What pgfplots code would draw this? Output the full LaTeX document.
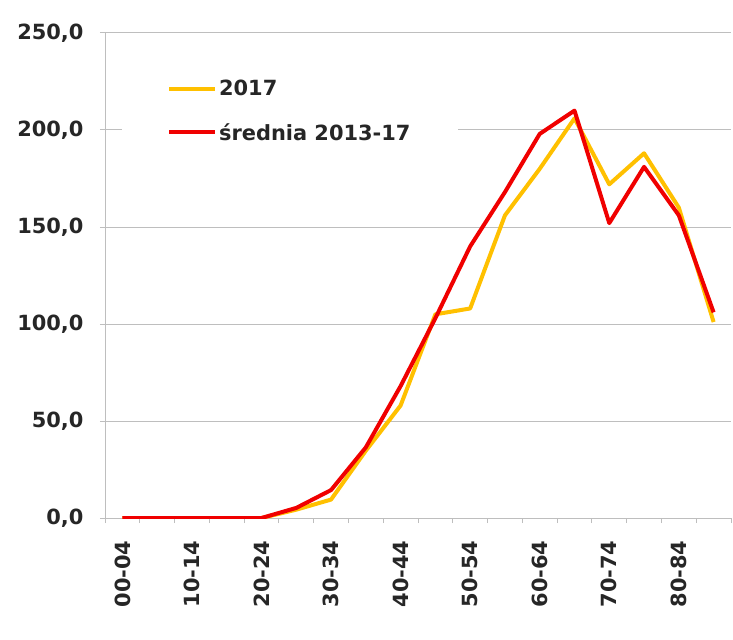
\documentclass[border=0pt]{standalone}
\usepackage{pgfplots}
\pgfplotsset{compat=1.18}
\usepackage{fontspec}
\setmainfont{DejaVu Sans}
\definecolor{ygold}{RGB}{255,192,0}
\definecolor{cred}{RGB}{240,0,0}
\definecolor{gridg}{RGB}{190,190,190}
\begin{document}
\begin{tikzpicture}
\begin{axis}[
  at={(0,0)}, anchor=south west,
  scale only axis, width=626bp, height=485bp,
  xmin=-0.5, xmax=17.5, ymin=0, ymax=250,
  axis lines*=left,
  axis line style={gridg, line width=1pt},
  tick align=outside,
  xtick={0,2,...,16},
  xticklabels={00-04,10-14,20-24,30-34,40-44,50-54,60-64,70-74,80-84},
  major x tick style={draw=none},
  minor xtick={-0.5,0.5,...,17.5},
  minor tick length=5bp,
  minor x tick style={gridg, line width=1pt},
  ytick={0,50,...,250},
  major tick length=5bp,
  major y tick style={gridg, line width=1pt},
  ymajorgrids,
  grid style={gridg, line width=1pt},
  /pgf/number format/.cd, fixed, fixed zerofill, precision=1, use comma, assume math mode=true,
  /pgfplots/.cd,
  ticklabel style={font=\fontsize{21}{24}\selectfont\bfseries, text=black!85},
  yticklabel style={xshift=-13bp},
  xticklabel style={yshift=-14bp, rotate=90, anchor=east},
  legend style={at={(0.027,0.936)}, anchor=north west, draw=none, fill=white,
    font=\fontsize{21}{24}\selectfont\bfseries, text=black!85,
    inner xsep=45bp, inner ysep=14bp, row sep=22bp, legend cell align=left},
  legend image code/.code={\draw[#1] (0bp,0bp) -- (46bp,0bp);},
  every axis plot/.append style={line width=4bp, line join=round},
]
\addplot[ygold] table {
0 0
1 0
2 0
3 0
4 0
5 4.3
6 9.5
7 34.7
8 58
9 105
10 108
11 156
12 180
13 206
14 172
15 188
16 160
17 101
};
\addlegendentry{2017}
\addplot[cred] table {
0 0
1 0
2 0
3 0
4 0
5 5.2
6 14.4
7 36.4
8 68
9 103
10 140
11 168
12 198
13 210
14 152
15 181
16 156
17 106
};
\addlegendentry{średnia 2013-17}
\end{axis}
\pgfresetboundingbox
\path (-105bp,-122bp) rectangle (628bp,518bp);
\end{tikzpicture}
\end{document}
